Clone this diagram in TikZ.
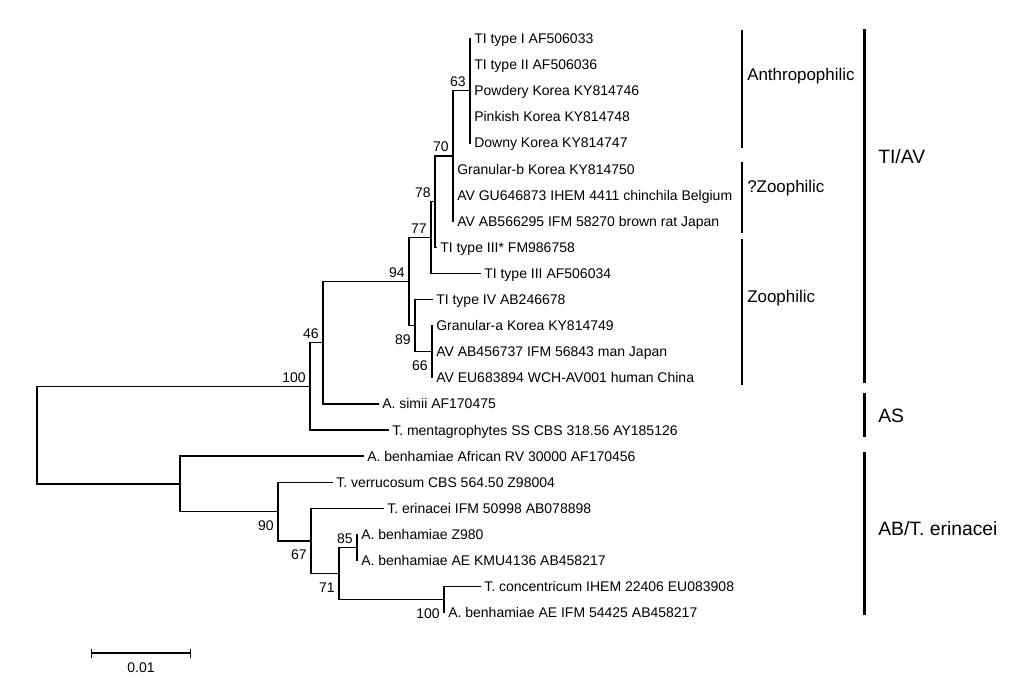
\documentclass[tikz,border=0pt]{standalone}
\usepackage{fontspec}
\setmainfont{Liberation Sans}
\usetikzlibrary{arrows.meta}
\tikzset{
    branch/.style={line width=0.95pt, line cap=rect},
    leaf/.style={anchor=west, inner xsep=3pt, inner ysep=0pt, text height=7.5pt, text depth=0pt, font=\fontsize{10.5}{12}\selectfont},
    boot/.style={inner sep=3pt, text height=7.5pt, text depth=0pt, font=\fontsize{10.5}{12}\selectfont},
    bootup/.style={boot, anchor=south east},
    bootdown/.style={boot, anchor=north east, yshift=-3.4pt},
    habitbar/.style={line width=0.8pt},
    habit/.style={anchor=west, inner sep=0pt, text height=9.1pt, text depth=0pt, font=\fontsize{12.7}{15}\selectfont},
    cladebar/.style={line width=2.6pt},
    cladename/.style={anchor=west, inner sep=0pt, text height=10.4pt, text depth=0pt, font=\fontsize{14.5}{17}\selectfont},
}
\newcommand{\junction}[3]{
    \coordinate (#1) at (#2,#3);
}

\begin{document}
\begin{tikzpicture}[x=0.75pt, y=-0.75pt]
    \useasboundingbox (0,0) rectangle (1030,690);
    % taxa
    \node[leaf] (t1) at (470,38.5) {TI type I AF506033};
    \node[leaf] (t2) at (470,64.6) {TI type II AF506036};
    \node[leaf] (t3) at (470,90.7) {Powdery Korea KY814746};
    \node[leaf] (t4) at (470,116.8) {Pinkish Korea KY814748};
    \node[leaf] (t5) at (470,142.9) {Downy Korea KY814747};
    \node[leaf] (t6) at (453,169.0) {Granular-b Korea KY814750};
    \node[leaf] (t7) at (453,195.1) {AV GU646873 IHEM 4411 chinchila Belgium};
    \node[leaf] (t8) at (453,221.2) {AV AB566295 IFM 58270 brown rat Japan};
    \node[leaf] (t9) at (436,247.3) {TI type III* FM986758};
    \node[leaf] (t10) at (480,273.4) {TI type III AF506034};
    \node[leaf] (t11) at (432,299.5) {TI type IV AB246678};
    \node[leaf] (t12) at (432,325.6) {Granular-a Korea KY814749};
    \node[leaf] (t13) at (432,351.7) {AV AB456737 IFM 56843 man Japan};
    \node[leaf] (t14) at (432,377.8) {AV EU683894 WCH-AV001 human China};
    \node[leaf] (t15) at (378,403.9) {A. simii AF170475};
    \node[leaf] (t16) at (388,430.0) {T. mentagrophytes SS CBS 318.56 AY185126};
    \node[leaf] (t17) at (363,456.1) {A. benhamiae African RV 30000 AF170456};
    \node[leaf] (t18) at (332,482.2) {T. verrucosum CBS 564.50 Z98004};
    \node[leaf] (t19) at (383,508.3) {T. erinacei IFM 50998 AB078898};
    \node[leaf] (t20) at (357,534.4) {A. benhamiae Z980};
    \node[leaf] (t21) at (357,560.5) {A. benhamiae AE KMU4136 AB458217};
    \node[leaf] (t22) at (480,586.6) {T. concentricum IHEM 22406 EU083908};
    \node[leaf] (t23) at (444,612.7) {A. benhamiae AE IFM 54425 AB458217};
    % internal nodes
    \junction{root}{37}{435.1}
    \junction{n100a}{310}{386.4}
    \junction{n46}{323}{342.7}
    \junction{n94}{409}{281.6}
    \junction{n77}{431}{237.5}
    \junction{n78}{435}{201.6}
    \junction{n70}{453}{156.0}
    \junction{n63}{470}{90.7}
    \junction{n89}{415}{325.6}
    \junction{n66}{432}{351.7}
    \junction{nAB}{180}{483.9}
    \junction{n90}{278}{511.6}
    \junction{n67}{311}{541.0}
    \junction{n71}{339}{573.6}
    \junction{n85}{357}{547.5}
    \junction{n100b}{444}{599.7}
    % branches
    \draw[branch] (root) |- (n100a);
    \draw[branch] (root) |- (nAB);
    \draw[branch] (n100a) |- (n46);
    \draw[branch] (n100a) |- (t16.west);
    \draw[branch] (n46) |- (n94);
    \draw[branch] (n46) |- (t15.west);
    \draw[branch] (n94) |- (n77);
    \draw[branch] (n94) |- (n89);
    \draw[branch] (n77) |- (n78);
    \draw[branch] (n77) |- (t10.west);
    \draw[branch] (n78) |- (n70);
    \draw[branch] (n78) |- (t9.west);
    \draw[branch] (n70) |- (n63);
    \draw[branch] (n70) |- (t6.west);
    \draw[branch] (n70) |- (t7.west);
    \draw[branch] (n70) |- (t8.west);
    \draw[branch] (n63) |- (t1.west);
    \draw[branch] (n63) |- (t2.west);
    \draw[branch] (n63) |- (t3.west);
    \draw[branch] (n63) |- (t4.west);
    \draw[branch] (n63) |- (t5.west);
    \draw[branch] (n89) |- (t11.west);
    \draw[branch] (n89) |- (n66);
    \draw[branch] (n66) |- (t12.west);
    \draw[branch] (n66) |- (t13.west);
    \draw[branch] (n66) |- (t14.west);
    \draw[branch] (nAB) |- (t17.west);
    \draw[branch] (nAB) |- (n90);
    \draw[branch] (n90) |- (t18.west);
    \draw[branch] (n90) |- (n67);
    \draw[branch] (n67) |- (t19.west);
    \draw[branch] (n67) |- (n71);
    \draw[branch] (n71) |- (n85);
    \draw[branch] (n71) |- (n100b);
    \draw[branch] (n85) |- (t20.west);
    \draw[branch] (n85) |- (t21.west);
    \draw[branch] (n100b) |- (t22.west);
    \draw[branch] (n100b) |- (t23.west);
    % support values
    \node[bootup] (b100a) at (n100a) {100};
    \node[bootup] (b46) at (n46) {46};
    \node[bootup] (b94) at (n94) {94};
    \node[bootup] (b77) at (n77) {77};
    \node[bootup] (b78) at (n78) {78};
    \node[bootup] (b70) at (n70) {70};
    \node[bootup] (b63) at (n63) {63};
    \node[bootdown] (b89) at (n89) {89};
    \node[bootdown] (b66) at (n66) {66};
    \node[bootdown] (b90) at (n90) {90};
    \node[bootdown] (b67) at (n67) {67};
    \node[bootdown] (b71) at (n71) {71};
    \node[bootup] (b85) at (n85) {85};
    \node[bootdown] (b100b) at (n100b) {100};
    % host groups
    \coordinate (anthro1) at (742,30);
    \coordinate (anthro2) at (742,148);
    \coordinate (qzoo1) at (742,162);
    \coordinate (qzoo2) at (742,233);
    \coordinate (zoo1) at (742,239);
    \coordinate (zoo2) at (742,385);
    \draw[habitbar] (anthro1) -- (anthro2);
    \draw[habitbar] (qzoo1) -- (qzoo2);
    \draw[habitbar] (zoo1) -- (zoo2);
    \node[habit] (anthro) at (747,74) {Anthropophilic};
    \node[habit] (qzoo) at (747,186.5) {?Zoophilic};
    \node[habit] (zoo) at (747,296) {Zoophilic};
    % clades
    \coordinate (tiav1) at (864.5,29);
    \coordinate (tiav2) at (864.5,383);
    \coordinate (as1) at (864.5,393);
    \coordinate (as2) at (864.5,437);
    \coordinate (ab1) at (864.5,452);
    \coordinate (ab2) at (864.5,615);
    \draw[cladebar] (tiav1) -- (tiav2);
    \draw[cladebar] (as1) -- (as2);
    \draw[cladebar] (ab1) -- (ab2);
    \node[cladename] (tiav) at (878,156.5) {TI/AV};
    \node[cladename] (as) at (878,415.5) {AS};
    \node[cladename] (ab) at (878,529) {AB/T. erinacei};
    % scale bar
    \coordinate (s1) at (91,653);
    \coordinate (s2) at (191,653);
    \draw[line width=0.95pt, {Bar[width=6.75pt]}-{Bar[width=6.75pt]}] (s1) -- (s2);
    \node[boot, anchor=center] (scale) at (141,667) {0.01};
\end{tikzpicture}
\end{document}
